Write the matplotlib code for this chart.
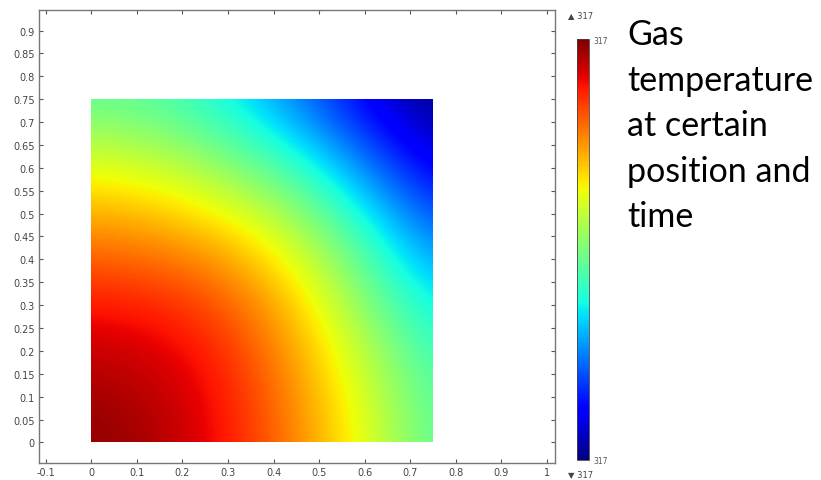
import numpy as np
import matplotlib
matplotlib.use('Agg')
import matplotlib.pyplot as plt
from matplotlib.patches import Rectangle

# sample positions (m) of the read-off grid
xs = [0.0, 0.15, 0.3, 0.45, 0.6, 0.75]
ys = [0.0, 0.15, 0.3, 0.45, 0.6, 0.75]

# relative gas temperature (0 = coldest, 1 = hottest), rows follow ys
row_y000 = [0.99, 0.96, 0.89, 0.77, 0.63, 0.46]
row_y015 = [0.96, 0.94, 0.88, 0.75, 0.60, 0.44]
row_y030 = [0.89, 0.88, 0.82, 0.70, 0.52, 0.36]
row_y045 = [0.77, 0.75, 0.70, 0.59, 0.42, 0.24]
row_y060 = [0.63, 0.60, 0.52, 0.42, 0.26, 0.10]
row_y075 = [0.46, 0.44, 0.36, 0.24, 0.10, 0.0]

xticks = [-0.1, 0, 0.1, 0.2, 0.3, 0.4, 0.5, 0.6, 0.7, 0.8, 0.9, 1]
yticks = [0, 0.05, 0.1, 0.15, 0.2, 0.25, 0.3, 0.35, 0.4, 0.45, 0.5, 0.55,
          0.6, 0.65, 0.7, 0.75, 0.8, 0.85, 0.9]
cbar_label = '317'
title_lines = ['Gas', 'temperature', 'at certain', 'position and', 'time']


def fmt(v):
  s = ('%.2f' % v).rstrip('0').rstrip('.')
  return '0' if s in ('-0', '') else s


if __name__ == '__main__':
  Z = np.array([row_y000, row_y015, row_y030, row_y045, row_y060, row_y075])
  dx = (xs[1] - xs[0]) / 2
  dy = (ys[1] - ys[0]) / 2

  fig = plt.figure(figsize=(8.21, 4.81), dpi=100)
  ax = fig.add_axes([39/821, 17/481, 516/821, 453/481])
  im = ax.imshow(Z, origin='lower', cmap='jet', vmin=0, vmax=1,
                 extent=(xs[0] - dx, xs[-1] + dx, ys[0] - dy, ys[-1] + dy),
                 interpolation='bicubic', interpolation_stage='data', aspect='auto')
  clip = Rectangle((xs[0], ys[0]), xs[-1] - xs[0], ys[-1] - ys[0],
                   transform=ax.transData, facecolor='none', edgecolor='none')
  ax.add_patch(clip)
  im.set_clip_path(clip)

  ax.set_xlim(-0.115, 1.018)
  ax.set_ylim(-0.045, 0.945)
  ax.set_xticks(xticks)
  ax.set_yticks(yticks)
  ax.set_xticklabels([fmt(v) for v in xticks])
  ax.set_yticklabels([fmt(v) for v in yticks])
  ax.tick_params(direction='in', length=3, width=0.8, color='#555555',
                 labelsize=7, labelcolor='#444444', top=True, right=True, pad=3)
  for sp in ax.spines.values():
    sp.set_color('#777777')
    sp.set_linewidth(1.0)

  cax = fig.add_axes([577/821, 20/481, 12/821, 421/481])
  cb = fig.colorbar(im, cax=cax)
  cb.set_ticks([0, 1])
  cb.set_ticklabels([cbar_label, cbar_label])
  cb.ax.tick_params(length=0, labelsize=5.5, labelcolor='#555555', pad=3)
  cb.outline.set_edgecolor('#444444')
  cb.outline.set_linewidth(0.6)

  fig.text(568/821, 1 - 16/481, '\u25b2 ' + cbar_label, fontsize=6,
           color='#444444', va='center', ha='left')
  fig.text(568/821, 1 - 475/481, '\u25bc ' + cbar_label, fontsize=6,
           color='#444444', va='center', ha='left')

  baselines = [45, 91, 136, 182, 227]
  for line, yb in zip(title_lines, baselines):
    fig.text(627/821, 1 - yb/481, line, fontsize=24.5, family=['Lato', 'DejaVu Sans'],
             color='black', va='baseline', ha='left')

  plt.savefig('out.png', dpi=100)
